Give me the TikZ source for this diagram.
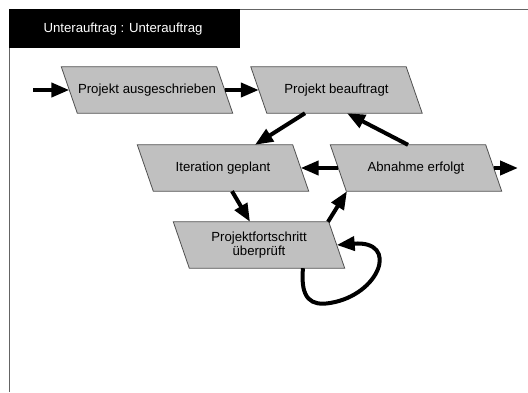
\documentclass[tikz,border=0pt]{standalone}
\usepackage{fontspec}
\setmainfont{Liberation Sans}
\usetikzlibrary{arrows.meta,calc,backgrounds}
\definecolor{boxgray}{RGB}{192,192,192}
\definecolor{boxline}{RGB}{80,80,80}
\definecolor{frameline}{RGB}{100,100,100}
\begin{document}
\begin{tikzpicture}[x=1pt,y=-1pt,
  st/.style={minimum width=155pt,minimum height=46pt,inner sep=0pt,font=\fontsize{13.2}{14}\selectfont,align=center},
  box/.style={fill=boxgray,draw=boxline,line width=0.8pt},
  arr/.style={line width=4pt,-{Triangle[length=18pt,width=14pt]}}]
\useasboundingbox (0,0) rectangle (528,392);
% frame
\draw[frameline,line width=1pt] (9,392) -- (9,9) -- (528,9);
\fill[black] (9,9) rectangle (240,48);
\node[font=\fontsize{13.2}{14}\selectfont,text=white] (hdr) at (123,29) {Unterauftrag : Unterauftrag};
% nodes
\node[st] (n1) at (147,90) {Projekt ausgeschrieben};
\node[st] (n2) at (336.5,90) {Projekt beauftragt};
\node[st] (n3) at (223,168) {Iteration geplant};
\node[st] (n4) at (416,168) {Abnahme erfolgt};
\node[st] (n5) at (259,245) {Projektfortschritt\\überprüft};
\begin{scope}[on background layer]
\foreach \n in {n1,n2,n3,n4,n5}
  \draw[box] ($(\n.north west)+(-8,0)$) -- ($(\n.north east)+(-8,0)$) -- ($(\n.south east)+(8,0)$) -- ($(\n.south west)+(8,0)$) -- cycle;
\end{scope}
\coordinate (start) at (33,90);
\coordinate (finish) at (518,168);
% connectors
\draw[arr] (start) -- (n1.west);
\draw[arr] (n1.east) -- (n2.west);
\draw[arr] ($(n2.south)+(-31.5,0)$) -- ($(n3.north)+(32,0)$);
\draw[arr] ($(n4.north)+(-8,0)$) -- ($(n2.south)+(10.5,0)$);
\draw[arr] (n4.west) -- (n3.east);
\draw[arr] (n4.east) -- (finish);
\draw[arr] ($(n3.south)+(9,0)$) -- ($(n5.north)+(-9,0)$);
\draw[arr] ($(n5.north)+(69,0)$) -- ($(n4.south)+(-69,0)$);
\draw[arr] ($(n5.south)+(44,0)$) .. controls (300,300) and (312,306) .. (330,303)
  .. controls (380,295) and (400,240) .. (n5.east);
\end{tikzpicture}
\end{document}
